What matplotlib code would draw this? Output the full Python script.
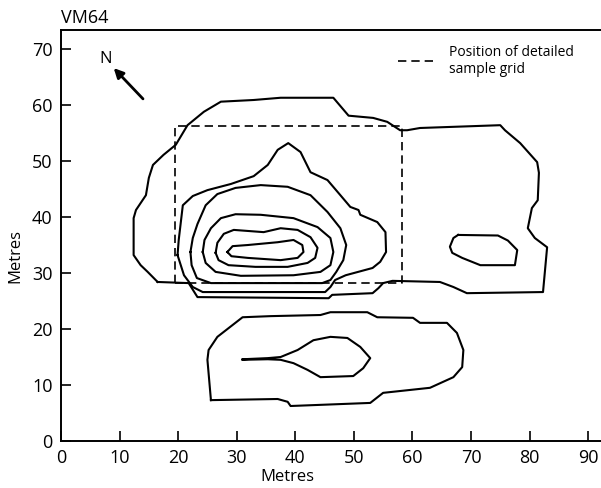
import matplotlib.pyplot as plt
from matplotlib.lines import Line2D

plt.rcParams['font.family'] = ['Open Sans', 'DejaVu Sans']

# contour lines (metres)
outer = [(16.5, 28.4), (14.8, 30.2), (13.6, 31.4), (12.4, 33.2), (12.4, 39.8),
         (12.8, 41.25), (14.5, 43.9), (15.0, 47.0), (15.7, 49.3), (17.5, 51.1),
         (19.6, 52.9), (21.6, 56.4), (24.4, 58.8), (27.3, 60.6), (32.9, 60.9),
         (37.5, 61.3), (46.5, 61.3), (49.1, 58.1), (53.3, 57.7), (55.7, 57.0),
         (57.9, 55.5), (59.1, 55.5), (61.3, 55.9), (75.0, 56.4), (75.8, 55.5),
         (78.4, 53.2), (81.3, 49.8), (81.6, 47.9), (81.4, 43.0), (80.4, 41.6),
         (79.7, 38.0), (80.9, 36.25), (83.0, 34.6), (82.3, 26.6), (69.3, 26.4),
         (67.0, 27.5), (64.7, 28.4), (56.6, 28.6), (55.0, 28.2), (54.2, 27.3),
         (53.2, 26.4), (46.3, 26.1), (45.7, 25.5), (23.3, 25.7), (21.8, 28.2)]

east_lobe = [(67.8, 36.8), (74.6, 36.7), (76.3, 35.8), (77.9, 34.1), (77.5, 31.4),
             (71.6, 31.4), (68.5, 32.7), (66.8, 33.6), (66.4, 34.7), (67.0, 36.25)]

ring2 = [(19.9, 33.2), (20.1, 35.9), (20.8, 42.1), (22.5, 43.75), (25.0, 44.8),
         (29.0, 45.9), (32.9, 47.3), (35.3, 49.3), (37.0, 52.0), (38.8, 53.2),
         (40.9, 51.6), (42.6, 48.0), (45.5, 46.6), (47.7, 43.9), (49.4, 41.8),
         (50.8, 41.25), (51.1, 40.4), (54.0, 39.1), (55.4, 37.3), (55.5, 33.75),
         (54.5, 32.0), (53.2, 30.9), (48.6, 29.6), (46.8, 28.75), (46.0, 27.5),
         (45.1, 26.6), (24.2, 26.6), (22.5, 27.5), (21.0, 29.6)]

ring3 = [(22.1, 33.75), (22.5, 36.25), (23.3, 38.75), (24.7, 42.1), (26.7, 44.1),
         (29.8, 45.2), (34.1, 45.7), (38.7, 45.4), (42.6, 43.9), (45.5, 40.9),
         (47.7, 38.0), (48.7, 35.0), (48.2, 32.3), (47.0, 30.2), (46.0, 28.75),
         (44.6, 28.2), (25.6, 28.2), (23.2, 29.1), (22.3, 31.4)]

ring4 = [(24.2, 33.75), (24.5, 35.9), (25.6, 38.0), (27.3, 39.8), (29.8, 40.5),
         (34.1, 40.4), (39.7, 39.8), (43.8, 38.2), (46.0, 36.25), (46.5, 33.75),
         (46.0, 31.4), (44.3, 30.2), (39.7, 29.6), (30.7, 29.5), (26.4, 30.2),
         (24.7, 31.8)]

ring5 = [(26.4, 33.6), (26.7, 35.4), (27.8, 37.0), (29.5, 37.7), (34.6, 37.3),
         (37.5, 38.0), (40.4, 37.7), (42.6, 36.4), (43.8, 34.5), (43.4, 32.7),
         (42.1, 31.8), (38.7, 31.1), (33.2, 31.1), (28.6, 31.4), (26.9, 32.3)]

ring6 = [(28.4, 33.75), (29.3, 34.8), (31.9, 35.0), (37.0, 35.5), (39.7, 35.9),
         (41.2, 35.0), (41.4, 33.75), (40.4, 32.7), (37.5, 32.3), (31.9, 32.7),
         (29.1, 33.0)]

south = [(25.6, 7.3), (25.0, 14.5), (25.2, 16.25), (26.7, 18.6), (31.0, 22.1),
         (35.8, 22.3), (44.3, 22.5), (46.0, 23.0), (52.3, 23.0), (54.0, 22.1),
         (60.1, 22.0), (61.3, 21.1), (65.9, 21.1), (67.6, 19.3), (68.7, 16.25),
         (68.5, 13.2), (67.0, 11.4), (63.0, 9.5), (55.0, 8.6), (52.8, 6.8),
         (39.2, 6.25), (38.7, 7.0), (37.0, 7.5)]

south_inner = [(31.0, 14.6), (35.3, 14.8), (37.5, 15.0), (40.4, 16.25), (43.1, 18.0),
               (46.0, 18.6), (48.9, 18.4), (51.1, 16.8), (52.8, 14.8), (51.6, 13.0),
               (49.9, 11.6), (44.3, 11.4), (42.1, 12.7), (39.7, 13.9), (37.5, 14.5),
               (35.3, 14.6), (31.0, 14.5)]

contours = [outer, east_lobe, ring2, ring3, ring4, ring5, ring6, south, south_inner]

# detailed sample grid
grid_x = [19.5, 58.3]
grid_y = [28.2, 56.25]

north_tail = (14.0, 61.1)
north_head = (9.0, 66.6)
north_label = (7.7, 68.2)

xticks = [0, 10, 20, 30, 40, 50, 60, 70, 80, 90]
yticks = [0, 10, 20, 30, 40, 50, 60, 70]

fig = plt.figure(figsize=(6.01, 4.88), dpi=100)
ax = fig.add_axes([61 / 601, 1 - 441 / 488, 540 / 601, 411 / 488])

for c in contours:
    xs = [p[0] for p in c]
    ys = [p[1] for p in c]
    if c is not south_inner:
        xs.append(xs[0])
        ys.append(ys[0])
    ax.plot(xs, ys, color='black', lw=1.5, solid_joinstyle='round')

gx = [grid_x[0], grid_x[0], grid_x[1], grid_x[1], grid_x[0]]
gy = [grid_y[0], grid_y[1], grid_y[1], grid_y[0], grid_y[0]]
ax.plot(gx, gy, color='black', lw=1.2, linestyle=(0, (5, 3)))

ax.annotate('', xy=north_head, xytext=north_tail,
            arrowprops=dict(arrowstyle='-|>', lw=2, color='black', mutation_scale=14,
                            shrinkA=0, shrinkB=0))
ax.text(north_label[0], north_label[1], 'N', fontsize=12, ha='center', va='center')

handle = Line2D([], [], color='black', lw=1.2, linestyle=(0, (5, 3)))
ax.legend([handle], ['Position of detailed\nsample grid'], loc='upper left',
          bbox_to_anchor=(0.6, 0.995), frameon=False, fontsize=10,
          handlelength=2.8, handletextpad=0.9, labelspacing=0.2)

ax.set_xlim(0, 92.2)
ax.set_ylim(0, 73.4)
ax.set_xticks(xticks)
ax.set_yticks(yticks)
ax.tick_params(direction='in', length=7, width=1.2, labelsize=13)
ax.tick_params(axis='y', pad=6)
ax.tick_params(axis='x', pad=6)
for s in ['left', 'bottom', 'top']:
    ax.spines[s].set_linewidth(1.4)
ax.spines['right'].set_visible(False)

ax.set_xlabel('Metres', fontsize=12)
ax.set_ylabel('Metres', fontsize=12)
ax.xaxis.set_label_coords(0.42, -0.068)
ax.yaxis.set_label_coords(-0.07, 0.45)
ax.set_title('VM64', loc='left', fontsize=13, pad=5)

fig.savefig('out.png', dpi=100)
